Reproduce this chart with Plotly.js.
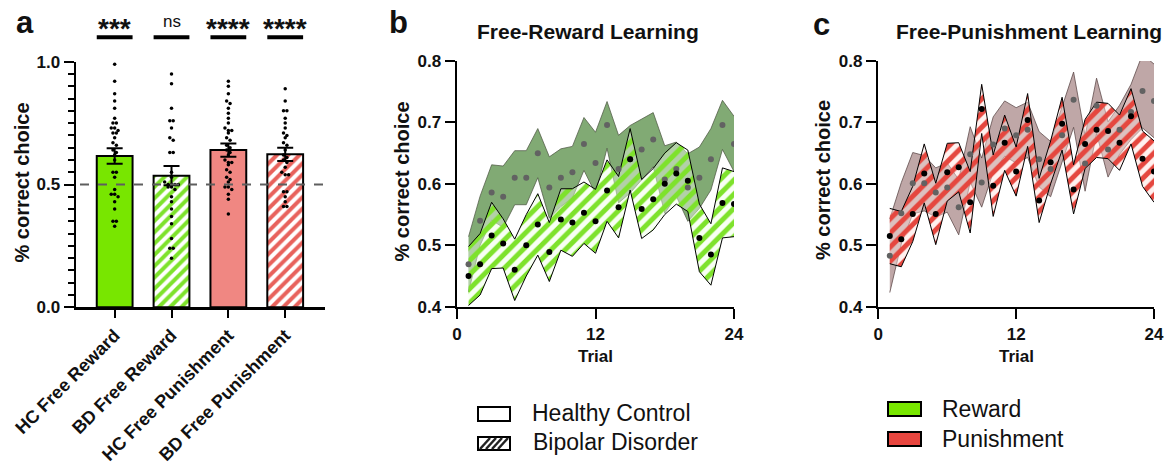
<!DOCTYPE html>
<html><head><meta charset="utf-8">
<script src="https://cdn.plot.ly/plotly-3.0.1.min.js"></script>
<style>html,body{margin:0;padding:0;background:#fff}#chart{width:1171px;height:466px}</style>
</head><body><div id="chart"></div>
<script>
// ---------- Panel a data ----------
const barCategories = ['HC Free Reward', 'BD Free Reward', 'HC Free Punishment', 'BD Free Punishment'];
const barMeans = [0.616, 0.536, 0.640, 0.623];
const barSEM = [0.032, 0.039, 0.027, 0.027];
const sigLabels = ['***', 'ns', '****', '****'];
const hcRewardSubjects = [0.99, 0.92, 0.87, 0.84, 0.81, 0.77, 0.75, 0.75, 0.73, 0.73, 0.72, 0.71, 0.71, 0.69, 0.67, 0.66, 0.64, 0.63, 0.62, 0.60, 0.55, 0.55, 0.53, 0.48, 0.46, 0.46, 0.45, 0.43, 0.40, 0.35, 0.35, 0.33];
const bdRewardSubjects = [0.95, 0.91, 0.81, 0.76, 0.76, 0.73, 0.69, 0.68, 0.63, 0.63, 0.55, 0.53, 0.51, 0.50, 0.50, 0.50, 0.50, 0.49, 0.49, 0.48, 0.45, 0.43, 0.40, 0.37, 0.34, 0.28, 0.24, 0.24, 0.20];
const hcPunishSubjects = [0.92, 0.90, 0.87, 0.84, 0.83, 0.81, 0.79, 0.77, 0.75, 0.73, 0.72, 0.72, 0.71, 0.69, 0.68, 0.66, 0.65, 0.64, 0.63, 0.62, 0.60, 0.59, 0.59, 0.58, 0.56, 0.55, 0.53, 0.52, 0.51, 0.49, 0.49, 0.48, 0.46, 0.44, 0.38];
const bdPunishSubjects = [0.89, 0.84, 0.80, 0.80, 0.77, 0.75, 0.73, 0.71, 0.70, 0.69, 0.67, 0.66, 0.64, 0.62, 0.61, 0.60, 0.59, 0.57, 0.55, 0.54, 0.54, 0.47, 0.47, 0.45, 0.43, 0.41, 0.41];

// ---------- Panels b, c data ----------
const trials = [1, 2, 3, 4, 5, 6, 7, 8, 9, 10, 11, 12, 13, 14, 15, 16, 17, 18, 19, 20, 21, 22, 23, 24];
const hcRewardMean = [0.469, 0.540, 0.586, 0.579, 0.610, 0.610, 0.650, 0.594, 0.610, 0.619, 0.665, 0.634, 0.696, 0.624, 0.640, 0.656, 0.672, 0.607, 0.624, 0.594, 0.610, 0.640, 0.696, 0.665];
const hcRewardSEM  = [0.045, 0.040, 0.045, 0.050, 0.044, 0.044, 0.040, 0.050, 0.047, 0.042, 0.043, 0.050, 0.038, 0.055, 0.055, 0.050, 0.044, 0.055, 0.044, 0.055, 0.050, 0.050, 0.040, 0.045];
const bdRewardMean = [0.450, 0.469, 0.516, 0.503, 0.460, 0.500, 0.534, 0.489, 0.542, 0.537, 0.553, 0.539, 0.589, 0.562, 0.640, 0.559, 0.575, 0.600, 0.617, 0.605, 0.512, 0.485, 0.569, 0.567];
const bdRewardSEM  = [0.048, 0.050, 0.054, 0.040, 0.050, 0.050, 0.050, 0.048, 0.050, 0.055, 0.050, 0.052, 0.050, 0.050, 0.050, 0.048, 0.050, 0.050, 0.050, 0.050, 0.055, 0.050, 0.057, 0.053];
const hcPunishMean = [0.483, 0.552, 0.601, 0.601, 0.586, 0.594, 0.562, 0.648, 0.602, 0.664, 0.690, 0.679, 0.688, 0.640, 0.624, 0.679, 0.737, 0.633, 0.727, 0.656, 0.688, 0.717, 0.751, 0.735];
const hcPunishSEM  = [0.060, 0.050, 0.050, 0.045, 0.040, 0.040, 0.045, 0.045, 0.040, 0.045, 0.045, 0.045, 0.045, 0.045, 0.045, 0.045, 0.045, 0.045, 0.045, 0.045, 0.040, 0.045, 0.060, 0.060];
const bdPunishMean = [0.515, 0.510, 0.551, 0.617, 0.551, 0.619, 0.627, 0.570, 0.722, 0.597, 0.667, 0.620, 0.704, 0.573, 0.635, 0.698, 0.591, 0.665, 0.688, 0.686, 0.667, 0.710, 0.641, 0.620];
const bdPunishSEM  = [0.045, 0.045, 0.045, 0.048, 0.050, 0.047, 0.040, 0.050, 0.040, 0.050, 0.045, 0.040, 0.043, 0.036, 0.035, 0.043, 0.040, 0.040, 0.045, 0.045, 0.045, 0.045, 0.045, 0.050];

// ---------- styling ----------
const FONT = 'Arial, "Liberation Sans", Helvetica, sans-serif';
const W = 1171, H = 466;
const px = v => v / W;
const py = v => 1 - v / H;
const GREEN = '#78E600';
const GREEN_STRIPE = '#7EE22C';
const SALMON = '#F08782';
const RED_BAR_STRIPE = '#E8625C';
const RED_STRIPE = '#E5473F';
const barStyles = [
  { color: GREEN, shape: '' , fg: 'black' },
  { color: 'white', shape: '/', fg: GREEN_STRIPE },
  { color: SALMON, shape: '', fg: 'black' },
  { color: 'white', shape: '/', fg: RED_BAR_STRIPE }
];

function jitter(vals, idx) {
  const s = [...vals].sort((a, b) => b - a);
  const xs = [], ys = [];
  let i = 0;
  while (i < s.length) {
    let j = i;
    while (j + 1 < s.length && s[i] - s[j + 1] < 0.011) j++;
    const n = j - i + 1;
    for (let k = 0; k < n; k++) { xs.push(idx + (k - (n - 1) / 2) * 0.06); ys.push(s[i + k]); }
    i = j + 1;
  }
  return { xs, ys };
}

const traces = [];
// bars, one trace per category so each can carry its own fill pattern
barMeans.forEach((m, i) => {
  const st = barStyles[i];
  const marker = { color: st.color, line: { color: 'black', width: 2 } };
  if (st.shape) marker.pattern = { shape: st.shape, fgcolor: st.fg, bgcolor: 'white', size: 8, solidity: 0.5, fillmode: 'replace' };
  traces.push({
    type: 'bar', x: [i], y: [m], width: 0.63, marker: marker,
    error_y: { type: 'data', array: [barSEM[i]], color: 'black', thickness: 2, width: 8 },
    xaxis: 'x', yaxis: 'y', showlegend: false, hoverinfo: 'skip'
  });
});
[hcRewardSubjects, bdRewardSubjects, hcPunishSubjects, bdPunishSubjects].forEach((vals, i) => {
  const j = jitter(vals, i);
  traces.push({ type: 'scatter', mode: 'markers', x: j.xs, y: j.ys, xaxis: 'x', yaxis: 'y',
    marker: { color: 'black', size: 3.5 }, showlegend: false, hoverinfo: 'skip' });
});

function band(mean, sem, xa, ya, lineColor, fill) {
  const lo = mean.map((m, i) => m - sem[i]);
  const hi = mean.map((m, i) => m + sem[i]);
  const t1 = { type: 'scatter', mode: 'lines', x: trials, y: lo, xaxis: xa, yaxis: ya,
    line: { color: lineColor, width: 1 }, showlegend: false, hoverinfo: 'skip' };
  const t2 = Object.assign({ type: 'scatter', mode: 'lines', x: trials, y: hi, xaxis: xa, yaxis: ya,
    fill: 'tonexty', line: { color: lineColor, width: 1 }, showlegend: false, hoverinfo: 'skip' }, fill);
  return [t1, t2];
}
function dots(mean, xa, ya, color) {
  return { type: 'scatter', mode: 'markers', x: trials, y: mean, xaxis: xa, yaxis: ya,
    marker: { color: color, size: 6 }, showlegend: false, hoverinfo: 'skip' };
}
// panel b
traces.push(...band(hcRewardMean, hcRewardSEM, 'x2', 'y2', 'rgba(80,90,70,0.75)', { fillcolor: 'rgba(70,130,50,0.68)' }));
traces.push(...band(bdRewardMean, bdRewardSEM, 'x2', 'y2', 'black',
  { fillcolor: 'rgba(255,255,255,0.45)', fillpattern: { shape: '/', fgcolor: GREEN_STRIPE, bgcolor: 'rgba(240,255,230,0.45)', size: 10, solidity: 0.5 } }));
traces.push(dots(hcRewardMean, 'x2', 'y2', '#626262'));
traces.push(dots(bdRewardMean, 'x2', 'y2', 'black'));
// panel c
traces.push(...band(hcPunishMean, hcPunishSEM, 'x3', 'y3', 'rgba(90,70,70,0.75)', { fillcolor: 'rgba(140,98,98,0.56)' }));
traces.push(...band(bdPunishMean, bdPunishSEM, 'x3', 'y3', 'black',
  { fillcolor: 'rgba(255,255,255,0.45)', fillpattern: { shape: '/', fgcolor: RED_STRIPE, bgcolor: 'rgba(255,225,220,0.45)', size: 10, solidity: 0.5 } }));
traces.push(dots(hcPunishMean, 'x3', 'y3', '#626262'));
traces.push(dots(bdPunishMean, 'x3', 'y3', 'black'));

const tickFont = { family: FONT, size: 17, color: '#111', weight: 'bold' };
const axBase = { showline: true, linecolor: 'black', linewidth: 2.5, ticks: 'outside', tickwidth: 2,
  tickcolor: 'black', showgrid: false, zeroline: false, tickfont: tickFont, fixedrange: true };

const yDomain = [py(306.7), py(61)];
const layout = {
  width: W, height: H, margin: { l: 0, r: 0, t: 0, b: 0 }, paper_bgcolor: 'white', plot_bgcolor: 'rgba(0,0,0,0)',
  showlegend: false, font: { family: FONT, color: '#111' }, barmode: 'overlay',
  xaxis: Object.assign({}, axBase, { domain: [px(76), px(325)], range: [-0.68, 3.70], tickmode: 'array',
    tickvals: [0, 1, 2, 3], ticktext: barCategories, tickangle: -45, ticklen: 8, anchor: 'y',
    tickfont: Object.assign({}, tickFont, { size: 18 }) }),
  yaxis: Object.assign({}, axBase, { domain: [py(307.3), py(61.7)], range: [0, 1], tick0: 0, dtick: 0.5,
    tickformat: '.1f', ticklen: 10, anchor: 'x',
    minor: { dtick: 0.05, ticks: 'outside', ticklen: 6, tickwidth: 2, tickcolor: 'black' } }),
  xaxis2: Object.assign({}, axBase, { domain: [px(457), px(734)], range: [0, 24], tickmode: 'array',
    tickvals: [0, 12, 24], ticklen: 10, anchor: 'y2' }),
  yaxis2: Object.assign({}, axBase, { domain: yDomain, range: [0.4, 0.8], tick0: 0.4, dtick: 0.1,
    tickformat: '.1f', ticklen: 10, anchor: 'x2' }),
  xaxis3: Object.assign({}, axBase, { domain: [px(878.3), px(1154)], range: [0, 24], tickmode: 'array',
    tickvals: [0, 12, 24], ticklen: 10, anchor: 'y3' }),
  yaxis3: Object.assign({}, axBase, { domain: yDomain, range: [0.4, 0.8], tick0: 0.4, dtick: 0.1,
    tickformat: '.1f', ticklen: 10, anchor: 'x3' }),
  shapes: [], annotations: []
};

// dashed chance line
layout.shapes.push({ type: 'line', xref: 'paper', yref: 'y', x0: px(80), x1: px(326), y0: 0.5, y1: 0.5,
  line: { color: '#5e5e5e', width: 2.2, dash: 'dash' }, layer: 'above' });
// significance markers
sigLabels.forEach((lab, i) => {
  layout.shapes.push({ type: 'line', xref: 'x', yref: 'paper', x0: i - 0.315, x1: i + 0.315,
    y0: py(37.3), y1: py(37.3), line: { color: 'black', width: 4 } });
  const isNs = lab === 'ns';
  layout.annotations.push({ xref: 'x', yref: 'paper', x: i, y: py(isNs ? 21 : 28.7), text: lab, showarrow: false,
    xanchor: 'center', yanchor: 'middle',
    font: { family: FONT, size: isNs ? 17 : 28, color: '#111', weight: isNs ? 'normal' : 'bold' } });
});

function ann(x, y, text, size, opts) {
  layout.annotations.push(Object.assign({ xref: 'paper', yref: 'paper', x: px(x), y: py(y), text: text,
    showarrow: false, xanchor: 'center', yanchor: 'middle',
    font: { family: FONT, size: size, color: '#111', weight: 'bold' } }, opts || {}));
}
// panel letters & titles
ann(25, 22.5, 'a', 31);
ann(398.5, 22.5, 'b', 31);
ann(821, 24, 'c', 31);
ann(588, 31, 'Free-Reward Learning', 21);
ann(1029, 31, 'Free-Punishment Learning', 21);
// axis titles
ann(21, 182.5, '% correct choice', 20, { textangle: -90 });
ann(401, 181.5, '% correct choice', 20, { textangle: -90 });
ann(823, 180, '% correct choice', 20, { textangle: -90 });
ann(595.5, 356, 'Trial', 17);
ann(1016, 356, 'Trial', 17);

// legends
function box(x0, y0, x1, y1, fill) {
  layout.shapes.push({ type: 'rect', xref: 'paper', yref: 'paper', x0: px(x0), x1: px(x1), y0: py(y1), y1: py(y0),
    fillcolor: fill, line: { color: 'black', width: 2 } });
}
box(478, 407, 510, 421, 'white');
box(478, 437, 510, 450, 'white');
[480, 486, 492, 498].forEach(s => {
  layout.shapes.push({ type: 'line', xref: 'paper', yref: 'paper', x0: px(s), y0: py(449), x1: px(s + 10), y1: py(438),
    line: { color: '#222', width: 2.5 } });
});
box(888, 402, 921, 416, GREEN);
box(888, 432, 921, 446, '#E8463F');
const legFont = { family: FONT, size: 23, color: '#111', weight: 'normal' };
ann(530, 412.7, 'Healthy Control', 23, { xanchor: 'left', font: legFont });
ann(531, 442, 'Bipolar Disorder', 23, { xanchor: 'left', font: legFont });
ann(940, 409, 'Reward', 23, { xanchor: 'left', font: legFont });
ann(940, 439, 'Punishment', 23, { xanchor: 'left', font: legFont });

Plotly.newPlot('chart', traces, layout, { staticPlot: true, displayModeBar: false });
</script></body></html>
